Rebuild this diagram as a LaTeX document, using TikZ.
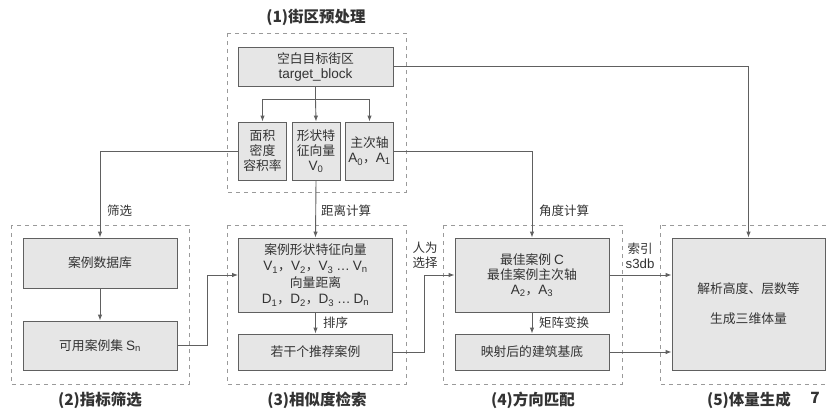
\documentclass[tikz,border=0pt]{standalone}
\usepackage{fontspec}
\setmainfont{Noto Sans CJK SC}
\newfontfamily\lat{Liberation Sans}[Scale=1.06]
\newcommand\vsub[2]{{\lat #1\textsubscript{#2}}}
\usetikzlibrary{arrows.meta}
\definecolor{boxfill}{HTML}{E6E6E6}
\definecolor{boxline}{HTML}{606060}
\definecolor{txt}{HTML}{333333}
\definecolor{dashc}{HTML}{9A9A9A}
\begin{document}
\begin{tikzpicture}[x=1pt,y=-1pt,
  box/.style={draw=boxline, fill=boxfill, line width=0.9pt, align=center, inner sep=0pt, text=txt, font=\fontsize{12.8}{15}\selectfont},
  grp/.style={draw=dashc, dash pattern=on 4pt off 4pt, line width=0.7pt},
  conn/.style={draw=boxline, line width=0.9pt},
  arr/.style={conn, -{Latex[length=6pt,width=4.5pt]}},
  lbl/.style={text=txt, font=\fontsize{12.5}{15}\selectfont, inner sep=0pt, align=center},
  ttl/.style={text=txt, font=\fontsize{15.5}{18}\selectfont\bfseries, inner sep=0pt}
]
\useasboundingbox (0,0) rectangle (826,410);

% groups
\draw[grp] (227,33) rectangle (406,192);
\draw[grp] (11,225) rectangle (189,384);
\draw[grp] (227,225) rectangle (406,384);
\draw[grp] (443,225) rectangle (622,384);
\draw[grp] (660,225) rectangle (840,384);

% titles
\node[ttl] (t1) at (316,17) {(1)街区预处理};
\node[ttl] (t2) at (100,400) {(2)指标筛选};
\node[ttl] (t3) at (317,400) {(3)相似度检索};
\node[ttl] (t4) at (533,400) {(4)方向匹配};
\node[ttl] (t5) at (749,400) {(5)体量生成};
\node[ttl] (t7) at (815,398) {7};

% boxes
\node[box, minimum width=155pt, minimum height=39pt] (tb) at (315.5,66.5) {空白目标街区\\{\lat target\_block}};
\node[box, minimum width=48pt, minimum height=58pt] (a1) at (262.5,151) {面积\\密度\\容积率};
\node[box, minimum width=48pt, minimum height=58pt] (a2) at (316,151) {形状特\\征向量\\\vsub{V}{0}};
\node[box, minimum width=48pt, minimum height=58pt] (a3) at (369.5,151) {主次轴\\\vsub{A}{0}，\vsub{A}{1}};

\node[box, minimum width=154pt, minimum height=50pt] (db) at (100,263) {案例数据库};
\node[box, minimum width=154pt, minimum height=49pt] (sn) at (100,345.5) {可用案例集 \vsub{S}{n}};

\node[box, minimum width=154pt, minimum height=74pt, font=\fontsize{12.8}{16.5}\selectfont] (c1) at (315.5,275) {案例形状特征向量\\\vsub{V}{1}，\vsub{V}{2}，\vsub{V}{3} {\lat …} \vsub{V}{n}\\向量距离\\\vsub{D}{1}，\vsub{D}{2}，\vsub{D}{3} {\lat …} \vsub{D}{n}};
\node[box, minimum width=154pt, minimum height=36pt] (c2) at (315.5,352) {若干个推荐案例};

\node[box, minimum width=154pt, minimum height=74pt] (d1) at (532,275) {最佳案例 {\lat C}\\最佳案例主次轴\\\vsub{A}{2}，\vsub{A}{3}};
\node[box, minimum width=154pt, minimum height=36pt] (d2) at (532,352) {映射后的建筑基底};

\node[box, minimum width=153pt, minimum height=132pt] (e1) at (748.5,304) {解析高度、层数等\\[15pt]生成三维体量};

% connectors
\draw[conn] (tb.south) -- ++(0,13) coordinate (j);
\draw[arr] (j) -| (a1.north);
\draw[arr] (j) -| (a3.north);
\draw[arr] (j) -- (a2.north);

\draw[arr] (a1.west) -| (db.north);
\draw[arr] (a2.south) -- (c1.north);
\draw[arr] (a3.east) -| (d1.north);
\draw[arr] (tb.east) -| (e1.north);

\draw[arr] (db.south) -- (sn.north);
\draw[arr] (sn.east) -- ++(30,0) |- (c1.west);
\draw[arr] (c1.south) -- (c2.north);
\draw[arr] (c2.east) -- ++(31,0) |- (d1.west);
\draw[arr] (d1.south) -- (d2.north);
\draw[arr] (d1.east) -- (e1.west |- d1.east);
\draw[arr] (d2.east) -- (e1.west |- d2.east);

% labels
\node[lbl, anchor=west] (l1) at (107,211) {筛选};
\node[lbl, anchor=west] (l2) at (321,211) {距离计算};
\node[lbl, anchor=west] (l3) at (539,211) {角度计算};
\node[lbl, anchor=west] (l4) at (323,323) {排序};
\node[lbl, anchor=west] (l5) at (539,323) {矩阵变换};
\node[lbl] (l6) at (425,255.5) {人为\\选择};
\node[lbl] (l7) at (640,255.5) {索引\\{\lat s3db}};
\end{tikzpicture}
\end{document}
